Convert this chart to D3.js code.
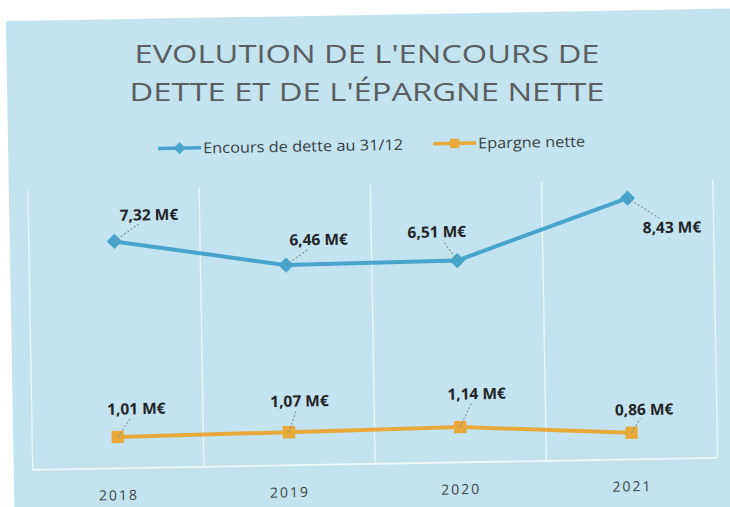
<!DOCTYPE html>
<html><head><meta charset="utf-8">
<script src="https://cdn.jsdelivr.net/npm/d3@7"></script>
<style>html,body{margin:0;padding:0;background:#c2e3ef;overflow:hidden;} svg{display:block;}</style>
</head><body>
<script>
const categories = ["2018", "2019", "2020", "2021"];
const seriesNames = ["Encours de dette au 31/12", "Epargne nette"];
const encours = [7.32, 6.46, 6.51, 8.43];
const epargne = [1.01, 1.07, 1.14, 0.86];
const titleLines = ["EVOLUTION DE L'ENCOURS DE", "DETTE ET DE L'ÉPARGNE NETTE"];
const yDomain = [0, 9];

// layout / style (not data)
const W = 730, H = 507;
const plot = {left: 29, right: 714, top: 185, bottom: 464};
const colors = {blue: "#47a4cb", orange: "#e8a93a", bg: "#c2e3ef", grid: "#eef8fb"};
const labelOffsets = [
  [[35, -26], [33, -25], [-20, -29], [44, 30]],
  [[19, -28], [11, -31], [17, -33], [13, -23]]
];
const fmt = v => v.toFixed(2).replace(".", ",") + " M€";

const svg = d3.select("body").append("svg").attr("width", W).attr("height", H)
  .attr("viewBox", `0 0 ${W} ${H}`);
svg.append("rect").attr("width", W).attr("height", H).attr("fill", colors.bg);
const g = svg.append("g").attr("transform", "rotate(-1, 365, 253)");
// white paper margins (top and left) outside the scanned chart panel
g.append("rect").attr("x", -200).attr("y", -300).attr("width", 1200).attr("height", 315).attr("fill", "#fff");
g.append("rect").attr("x", -300).attr("y", -300).attr("width", 310).attr("height", 1200).attr("fill", "#fff");

const x = d3.scaleBand().domain(categories).range([plot.left, plot.right]).padding(0);
const y = d3.scaleLinear().domain(yDomain).range([plot.bottom, plot.top]);
const cx = c => x(c) + x.bandwidth() / 2;

// vertical gridlines at band boundaries
const bounds = categories.map(c => x(c)).concat([x.range()[1]]);
g.append("g").selectAll("line").data(bounds).join("line")
  .attr("x1", d => d).attr("x2", d => d)
  .attr("y1", y(yDomain[1])).attr("y2", y(0))
  .attr("stroke", colors.grid).attr("stroke-width", 1.3);
// horizontal axis line
g.append("line").attr("x1", plot.left).attr("x2", plot.right)
  .attr("y1", y(0)).attr("y2", y(0)).attr("stroke", colors.grid).attr("stroke-width", 1.8);

// x axis labels
const xAxis = g.append("g").attr("transform", `translate(0,${y(0)})`)
  .call(d3.axisBottom(x).tickSize(0).tickPadding(22));
xAxis.select(".domain").remove();
xAxis.selectAll("text").attr("font-family", "Open Sans").attr("font-size", 14)
  .attr("letter-spacing", 2).attr("fill", "#3d4448");

// title (kept level)
svg.append("g").selectAll("text").data(titleLines).join("text")
  .attr("x", 367).attr("y", (d, i) => 63 + i * 38)
  .attr("text-anchor", "middle").attr("font-family", "Open Sans").attr("font-size", 26)
  .attr("fill", "#585e62").attr("textLength", (d, i) => i === 0 ? 465 : 475)
  .attr("lengthAdjust", "spacingAndGlyphs").text(d => d);

// legend
const legend = [
  {name: seriesNames[0], color: colors.blue, x0: 160, shape: "diamond", tl: 200},
  {name: seriesNames[1], color: colors.orange, x0: 435, shape: "square", tl: 107}
];
const lg = g.append("g").selectAll("g").data(legend).join("g");
lg.append("line").attr("x1", d => d.x0).attr("x2", d => d.x0 + 43)
  .attr("y1", 145).attr("y2", 145).attr("stroke", d => d.color).attr("stroke-width", 3.5);
lg.append("path").attr("transform", d => `translate(${d.x0 + 21.5},145)`)
  .attr("d", d => d3.symbol().type(d.shape === "diamond" ? d3.symbolDiamond2 : d3.symbolSquare2)
    .size(d.shape === "diamond" ? 70 : 90)())
  .attr("fill", d => d.color).attr("stroke", d => d.color).attr("stroke-width", 1);
lg.append("text").attr("x", d => d.x0 + 45).attr("y", 150.5)
  .attr("font-family", "Open Sans").attr("font-size", 15).attr("fill", "#3a4246")
  .attr("textLength", d => d.tl).attr("lengthAdjust", "spacingAndGlyphs").text(d => d.name);

// series
const series = [
  {values: encours, color: colors.blue, shape: "diamond"},
  {values: epargne, color: colors.orange, shape: "square"}
];
const line = d3.line().x((d, i) => cx(categories[i])).y(d => y(d));
series.forEach((s, si) => {
  g.append("path").datum(s.values).attr("d", line).attr("fill", "none")
    .attr("stroke", s.color).attr("stroke-width", 4).attr("stroke-linejoin", "round");
  const sym = s.shape === "diamond"
    ? d3.symbol().type(d3.symbolDiamond2).size(110)
    : d3.symbol().type(d3.symbolSquare2).size(150);
  g.append("g").selectAll("path").data(s.values).join("path")
    .attr("transform", (d, i) => `translate(${cx(categories[i])},${y(d)})`)
    .attr("d", sym()).attr("fill", s.color).attr("stroke", s.color).attr("stroke-width", 1.5);
  // labels and leader lines
  s.values.forEach((v, i) => {
    const px = cx(categories[i]), py = y(v);
    const [ox, oy] = labelOffsets[si][i];
    const lx = px + ox, ly = py + oy;
    const ey = ly + (oy < 0 ? 9 : -9);
    const ex = lx + (ox > 0 ? -Math.min(12, ox * 0.3) : Math.min(12, -ox * 0.3));
    g.append("line").attr("x1", px).attr("y1", py).attr("x2", ex).attr("y2", ey)
      .attr("stroke", "#7d8a90").attr("stroke-width", 1).attr("stroke-dasharray", "2,2");
    g.append("text").attr("x", lx).attr("y", ly + 5.5).attr("text-anchor", "middle")
      .attr("font-family", "Open Sans").attr("font-weight", "bold").attr("font-size", 15.5)
      .attr("fill", "#1f2528").text(fmt(v));
  });
});
</script>
</body></html>
